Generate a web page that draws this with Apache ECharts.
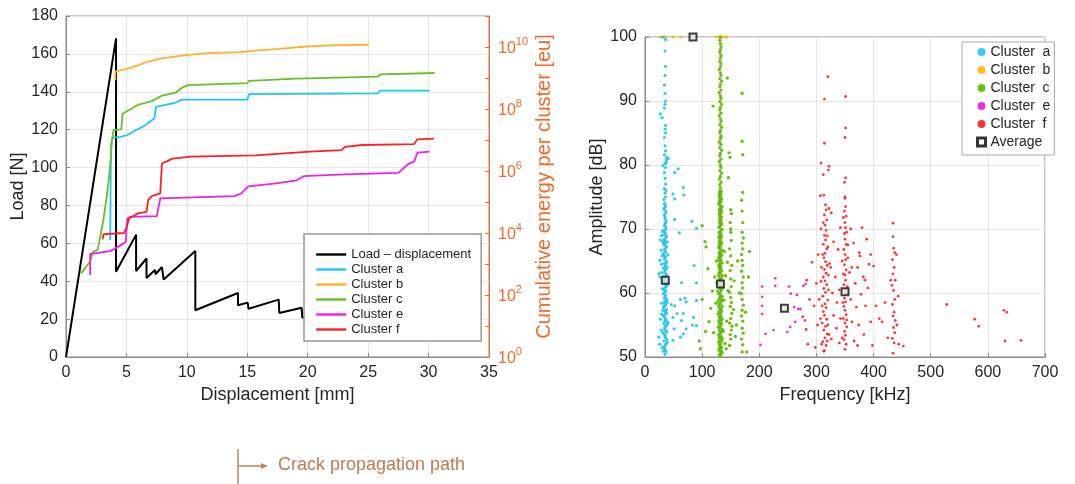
<!DOCTYPE html>
<html><head><meta charset="utf-8">
<script src="https://cdn.jsdelivr.net/npm/echarts@6/dist/echarts.min.js"></script>
<style>html,body{margin:0;padding:0;background:#fff}#c{width:1075px;height:484px}</style>
</head><body><div id="c"></div>
<script>
// ---------- Left chart data ----------
var loadDisp = [[0,0],[4.14,168.2],[4.14,45],[5.8,64.6],[5.8,45.4],[6.66,52],[6.66,41.7],[7.37,46],[7.4,43.7],[7.94,47.5],[8.08,40.9],[10.7,56],[10.7,24.7],[14.23,33.8],[14.23,27.3],[15.03,28.7],[15.1,25.5],[17.6,30.3],[17.65,23.2],[19.5,26],[19.55,20.8],[20.3,21.5]];
var energyA = [[3.66,5.9e3],[3.7,1e6],[3.75,7.8e6],[3.89,1.2e7],[4.51,1.26e7],[5.09,1.45e7],[5.8,2.1e7],[6.37,2.7e7],[6.8,3.5e7],[7.31,5.0e7],[7.45,1.17e8],[8.23,1.35e8],[9.09,1.6e8],[9.51,2.0e8],[15.0,2.0e8],[15.14,3.0e8],[25.8,3.2e8],[26.0,3.9e8],[30.08,3.9e8]];
var energyB = [[4.08,8.5e8],[4.08,1.6e9],[5.09,2.0e9],[5.89,2.5e9],[5.95,2.8e9],[6.8,3.4e9],[7.94,4.3e9],[9.94,5.5e9],[11.66,6.3e9],[14.5,6.8e9],[15.66,7.6e9],[17.66,8.7e9],[19.66,1.02e10],[21.94,1.12e10],[25.08,1.18e10]];
var energyC = [[1.23,4.9e2],[2.0,1.2e3],[2.23,2.5e3],[2.6,2.8e3],[2.7,4e3],[3.09,2.6e4],[3.37,1.5e5],[3.6,8.3e5],[3.8,1e7],[3.94,2.1e7],[4.57,2.2e7],[4.69,7.2e7],[5.23,9.3e7],[5.94,1.35e8],[7.09,1.8e8],[7.94,2.7e8],[9.09,3.4e8],[9.66,5.0e8],[10.08,5.9e8],[15.0,6.8e8],[15.14,8.1e8],[19.08,9.5e8],[25.8,1.1e9],[26.0,1.3e9],[30.5,1.45e9]];
var energyE = [[2.0,4.4e2],[2.0,2.1e3],[3.66,2.6e3],[4.37,3.7e3],[4.94,5.1e3],[5.08,3.0e4],[5.31,3.3e4],[7.51,3.5e4],[7.8,1.3e5],[13.94,1.55e5],[14.51,1.9e5],[15.08,3.2e5],[17.37,4.0e5],[19.08,5.0e5],[19.66,6.8e5],[23.08,7.8e5],[27.5,8.7e5],[28.37,1.74e6],[28.8,2.0e6],[29.08,3.9e6],[30.08,4.2e6]];
var energyF = [[3.03,6.2e3],[3.1,9.1e3],[4.8,1.0e4],[5.03,1.6e4],[5.23,3.0e4],[5.94,4.3e4],[6.66,4.8e4],[6.8,1.15e5],[7.09,1.55e5],[7.8,1.9e5],[7.94,1.74e6],[8.51,2.2e6],[8.8,2.5e6],[10.37,2.9e6],[15.66,3.2e6],[15.8,3.6e6],[20.2,4.2e6],[22.8,4.7e6],[23.08,6.0e6],[24.5,6.9e6],[28.8,7.4e6],[29.08,1.05e7],[30.45,1.1e7]];
var leftNames = ['Load \u2013 displacement','Cluster a','Cluster b','Cluster c','Cluster e','Cluster f'];

// ---------- Right chart data ----------
var ptsA = [[35,50.4],[36,51.0],[34,51.6],[37,52.1],[33,52.5],[36,53.0],[35,53.4],[38,53.9],[34,54.3],[36,54.8],[33,55.2],[37,55.7],[35,56.1],[34,56.6],[36,57.0],[38,57.4],[33,57.9],[35,58.3],[37,58.8],[34,59.2],[36,59.6],[35,60.1],[33,60.5],[37,61.0],[34,61.4],[36,61.9],[35,62.3],[38,62.8],[33,63.2],[36,63.7],[35,64.1],[34,64.6],[37,65.0],[35,65.5],[33,65.9],[36,66.4],[34,66.8],[37,67.3],[35,67.7],[33,68.2],[36,68.6],[34,69.1],[35,69.5],[37,70.0],[34,70.5],[36,71.0],[35,71.6],[34,72.2],[36,72.8],[35,73.4],[34,74.0],
[37,50.8],[34,51.3],[36,51.9],[38,52.7],[35,53.2],[33,53.7],[37,54.1],[35,54.6],[38,55.0],[34,55.5],[36,55.9],[32,56.4],[38,56.8],[35,57.2],[33,57.7],[36,58.1],[34,58.6],[38,59.0],[35,59.4],[32,59.9],[37,60.3],[35,60.8],[38,61.2],[33,61.7],[36,62.1],[34,62.6],[37,63.0],[35,63.5],[32,63.9],[36,64.4],[38,64.8],[34,65.3],[36,65.7],[32,66.2],[35,66.6],[37,67.1],[33,67.5],[36,68.0],[34,68.4],[38,68.9],[35,69.3],[33,69.8],[36,70.3],[35,70.8],[37,71.3],[35,71.9],[37,72.5],[33,73.1],[36,73.7],
[28,63.2],[26,62.5],[24,63.0],[29,64.5],[30,65.8],[28,66.7],[27,68.3],[29,69.0],[30,69.6],[31,67.9],[26,65.1],[31,62.0],[30,60.7],[29,58.4],[31,57.3],[27,55.9],[24,53.1],[26,52.0],[28,54.2],[30,51.5],[31,53.8],[29,56.7],[32,50.9],[39,58.5],[40,61.5],[39,64.0],[40,66.0],[39,68.0],[40,55.4],[39,52.3],
[36,99.6],[35,97.8],[36,95.4],[35,94.0],[34,92.5],[35,91.2],[36,90.0],[35,89.5],[34,88.9],[27,88.0],[30,87.4],[36,86.2],[35,85.6],[36,85.0],[34,84.3],[35,83.0],[36,82.2],[34,81.6],[37,80.8],[35,80.2],[36,79.6],[34,78.8],[35,77.9],[36,77.0],[34,76.3],[35,75.6],[36,75.0],[33,74.6],[31,79.9],[38,81.2],[37,76.0],
[52,78.8],[58,79.4],[49,75.5],[52,74.7],[67,76.5],[68,75.3],[52,71.5],[60,69.4],[82,71.2],[90,70.1],[86,64.3],[90,61.6],[64,61.6],[46,58.2],[52,58.0],[62,59.0],[70,59.2],[72,58.6],[49,56.2],[56,56.8],[67,56.8],[64,55.7],[51,54.4],[72,54.4],[85,56.2],[90,54.9],[40,55.2],[49,52.6],[62,53.1],[67,53.6],[90,58.8],[83,55.0],[40.5,81.0],[37.6,80.4],
[30,100],[33,100],[35,100]];
var ptsB = [[26,100],[35,100],[49,100],[62,100],[125,100],[130,100],[134,100],[138,100],[143,100]];
var ptsC = [[130,50.3],[133,50.3],[132,50.7],[135,50.7],[129,51.1],[133,51.1],[131,51.5],[134,51.5],[130,51.9],[132,51.9],[133,52.3],[129,52.3],[131,52.7],[135,52.7],[130,53.1],[134,53.1],[132,53.5],[129,53.5],[133,53.9],[131,53.9],[130,54.3],[135,54.3],[132,54.7],[128,54.7],[134,55.1],[131,55.1],[129,55.5],[133,55.5],[131,55.9],[135,55.9],[130,56.3],[133,56.3],[132,56.7],[128,56.7],[134,57.1],[130,57.1],[131,57.5],[133,57.5],[129,57.9],[135,57.9],[132,58.3],[130,58.3],[134,58.7],[128,58.7],[130,59.1],[133,59.1],[132,59.5],[135,59.5],[129,59.9],[131,59.9],[133,60.3],[127,60.3],[131,60.7],[135,60.7],[130,61.1],[134,61.1],[132,61.5],[128,61.5],[134,61.9],[130,61.9],[131,62.3],[133,62.3],[129,62.7],[135,62.7],[132,63.1],[130,63.1],[134,63.5],[131,63.5],[130,63.9],[133,63.9],[132,64.3],[129,64.3],[131,64.7],[135,64.7],[133,65.1],[130,65.1],[129,65.5],[132,65.5],[134,65.9],[131,65.9],[130,66.3],[133,66.3],[132,66.7],[135,66.7],[131,67.1],[129,67.1],[133,67.5],[130,67.5],[130,67.9],[134,67.9],[132,68.3],[131,68.3],[134,68.7],[129,68.7],[131,69.1],[133,69.1],[130,69.5],[132,69.5],[133,69.9],[135,69.9],[131,70.3],[129,70.3],[132,70.7],[134,70.7],[130,71.1],[133,71.1],[133,71.5],[131,71.5],[131,71.9],[134,71.9],[132,72.3],[130,72.3],[134,72.7],[131,72.7],[130,73.1],[133,73.1],[132,73.5],[135,73.5],[131,73.9],[129,73.9],[133,74.3],[130,74.3],[131,74.7],[134,74.7],[132,75.1],[130,75.1],[130,75.5],[133,75.5],[133,75.9],[131,75.9],
[132,76.4],[131,76.9],[133,77.3],[130,77.8],[132,78.2],[134,78.7],[131,79.1],[133,79.6],[132,80.0],[130,80.5],[133,80.9],[131,81.4],[132,81.8],[134,82.3],[131,82.7],[133,83.2],[130,83.6],[132,84.1],[133,84.5],[131,85.0],[132,85.4],[134,85.9],[131,86.3],[133,86.8],[132,87.2],[130,87.7],[133,88.1],[131,88.6],[132,89.0],[134,89.5],[131,89.9],[133,90.4],[132,90.8],[130,91.3],[133,91.7],[131,92.2],[132,92.6],[134,93.1],[131,93.5],[133,94.0],[132,94.4],[130,94.9],[132,95.3],[133,95.8],[131,96.2],[132,96.7],[133,97.1],[131,97.6],[132,98.0],[133,98.5],[132,99.0],[131,99.5],[132,100],
[150,52.8],[149,53.5],[151,54.2],[148,55.3],[150,56.0],[152,56.8],[149,57.9],[151,58.5],[150,59.3],[148,60.1],[151,61.0],[150,62.2],[149,63.5],[152,64.3],[150,65.8],[148,66.9],[151,68.2],[150,69.5],[149,71.0],[151,72.4],[150,73.0],[147,81.9],[149,81.2],[144,93.6],[146,78.0],[150,70.0],[152,54.8],[148,51.8],
[170,50.8],[171,51.9],[169,52.8],[172,53.7],[170,54.5],[171,55.6],[169,56.4],[170,57.3],[172,58.1],[170,59.0],[169,59.9],[171,60.8],[170,61.6],[172,62.5],[169,63.4],[171,64.3],[170,65.1],[169,66.0],[171,66.9],[170,67.8],[172,68.6],[170,69.5],[171,71.0],[170,72.8],[169,74.5],[171,75.7],[170,83.7],[171,81.6],[170,91.2],
[140,52.1],[143,55.6],[138,58.9],[145,60.4],[141,62.7],[155,57.4],[158,53.2],[144,64.8],[139,66.5],[156,61.9],[160,55.0],[137,54.0],[142,51.3],
[119,89.2],[100,70.5],[105,68.0],[107,67.2],[110,63.8],[118,60.3],[122,62.5],[125,65.0],[100,59.0],[97,51.3],[95,52.5],[106,54.0],[112,55.5],[120,53.8],[115,57.6],[124,58.4],[126,61.6],[183,66.5],[181,62.5],[178,50.8],[176,57.0],[165,60.0],[162,65.0]];
var ptsE = [[205,61.0],[205,58.0],[205,56.7],[202,51.9],[211,53.6],[228,62.3],[228,61.1],[225,54.2],[252,61.0],[255,59.9],[254,54.7],[249,53.9],[261,57.8],[268,57.5],[263,55.5],[266,59.7],[277,61.1],[281,61.4],[272,57.5],[280,55.7],[205,59.4]];
var ptsF = [[314,51.0],[317,51.8],[311,52.4],[315,53.0],[319,53.6],[313,54.2],[316,54.8],[310,55.3],[318,55.9],[314,56.5],[312,57.1],[317,57.7],[315,58.3],[320,58.9],[311,59.5],[316,60.1],[313,60.7],[318,61.3],[315,61.9],[312,62.5],[317,63.1],[314,63.7],[319,64.3],[316,64.9],[313,65.5],[315,66.2],[318,66.9],[312,67.6],[316,68.3],[314,69.0],[317,69.8],[315,70.6],[318,71.4],[314,72.2],[317,73.0],[316,73.8],[313,75.3],[322,73.2],[308,70.0],[320,67.2],[309,64.0],[321,60.5],[307,56.0],[322,53.5],[309,52.0],[320,55.0],[310,58.0],[321,62.8],[308,61.8],[323,64.6],[311,66.0],[319,68.9],[312,71.0],[319,52.5],[313,50.9],
[350,51.2],[352,52.0],[348,52.7],[351,53.4],[349,54.0],[353,54.7],[350,55.3],[347,56.0],[352,56.6],[350,57.3],[348,57.9],[351,58.6],[349,59.2],[352,59.9],[350,60.6],[348,61.3],[351,62.0],[350,62.8],[352,63.6],[349,64.4],[351,65.2],[350,66.0],[348,66.8],[352,67.6],[350,68.4],[349,69.3],[351,70.2],[350,71.0],[352,72.0],[349,72.8],[351,73.5],[350,75.0],[349,77.3],[351,78.0],[353,55.8],[347,63.0],[354,61.0],[346,58.5],[355,65.5],[345,53.0],[353,69.5],[347,71.8],
[434,50.6],[436,52.2],[433,52.9],[437,53.8],[435,54.6],[438,55.7],[434,56.4],[436,57.0],[433,58.2],[437,59.0],[435,60.4],[432,61.2],[438,62.0],[434,63.0],[436,64.0],[433,65.2],[437,66.3],[435,67.0],[434,68.8],[434,70.9],[440,66.0],[443,59.5],[430,62.0],[441,55.0],[444,52.0],[452,51.7],
[292,64.8],[296,58.0],[300,61.5],[302,55.0],[298,51.5],[305,59.0],[303,66.0],[325,64.0],[328,60.0],[330,56.5],[326,52.8],[333,62.5],[336,58.5],[338,66.8],[335,54.5],[340,60.5],[342,70.2],[340,52.2],[345,65.0],[358,63.2],[360,59.0],[362,55.5],[365,67.8],[368,61.5],[366,52.5],[370,57.8],[372,64.0],[375,66.3],[374,55.0],[378,59.8],[380,70.2],[382,62.5],[383,53.5],[386,58.0],[388,68.4],[390,60.8],[392,64.5],[395,55.5],[398,51.8],[400,64.2],[404,58.0],[410,56.0],[415,55.5],[420,58.5],[425,53.0],[282,54.3],[285,52.0],[288,59.0],[276,56.3],[283,62.0],[362,64.0],[372,51.8],[376,65.8],[355,67.5],[342,56.0],[330,68.0],[326,72.5],[360,70.0],[385,62.0],[395,66.0],
[528,58.2],[577,55.9],[584,54.8],[628,57.3],[633,57.0],[630,52.5],[658,52.6],[320,93.8],[314,90.3],[351,90.7],[351,85.8],[350,84.3],[314,83.4],[308,80.3],[312,78.5],[322,79.8],[321,79.2],[307,75.2],[350,74.8]];
var ptsAvg = [[35.5,62.0],[84,100],[132,61.4],[244,57.6],[350,60.2]];
var rightNames = ['Cluster  a','Cluster  b','Cluster  c','Cluster  e','Cluster  f','Average'];

// ---------- styles ----------
var FONT = 'Liberation Sans, Arial, sans-serif';
var TXT = '#262626', AX = '#8a8a8a', GRIDC = '#e6e6e6', ORANGE = '#f06a2c';
var lineCols = ['#000000','#1ec8f0','#ffb02e','#66c02a','#f020e6','#ff2020'];
var dotCols = ['#1ec4ec','#ffb400','#5cb800','#e61ed2','#ff1e1e'];
var dotSizes = [3.2, 3, 3.4, 2.8, 2.8];

function ax(extra){
  var o = {
    axisLine:{show:true,lineStyle:{color:AX,width:1}},
    axisTick:{show:true,inside:true,length:4,lineStyle:{color:AX}},
    axisLabel:{color:TXT,fontSize:16,fontFamily:FONT},
    splitLine:{show:true,lineStyle:{color:GRIDC,width:1}},
    nameTextStyle:{color:TXT,fontSize:18,fontFamily:FONT},
    nameLocation:'middle'
  };
  for (var k in extra) o[k]=extra[k];
  return o;
}

var leftData = [loadDisp, energyA, energyB, energyC, energyE, energyF];
var series = [];
for (var i=0;i<6;i++){
  series.push({type:'line', name:leftNames[i], xAxisIndex:0, yAxisIndex: i===0?0:1,
    data:leftData[i], symbol:'none', lineStyle:{color:lineCols[i], width: i===0?2:1.8},
    itemStyle:{color:lineCols[i]}, animation:false});
}
var rightData = [ptsA, ptsB, ptsC, ptsE, ptsF];
for (var j=0;j<5;j++){
  series.push({type:'scatter', name:rightNames[j], xAxisIndex:1, yAxisIndex:2,
    data:rightData[j], symbol:'circle', symbolSize: dotSizes[j],
    itemStyle:{color:dotCols[j], opacity:0.9}, animation:false, silent:true});
}
series.push({type:'scatter', name:'Average', xAxisIndex:1, yAxisIndex:2, data:ptsAvg,
  symbol:'rect', symbolSize:7, itemStyle:{color:'#e8e8e8', borderColor:'#111', borderWidth:2}, animation:false, z:5});

var option = {
  backgroundColor:'#fff',
  animation:false,
  grid:[
    {left:66, right:586, top:16, bottom:127, show:true, borderColor:AX, borderWidth:1, backgroundColor:'transparent'},
    {left:645, right:30, top:37, bottom:127, show:true, borderColor:AX, borderWidth:1, backgroundColor:'transparent'}
  ],
  xAxis:[
    ax({type:'value', gridIndex:0, min:0, max:35, interval:5, name:'Displacement [mm]', nameGap:24}),
    ax({type:'value', gridIndex:1, min:0, max:700, interval:100, name:'Frequency [kHz]', nameGap:25})
  ],
  yAxis:[
    ax({type:'value', gridIndex:0, min:0, max:180, interval:20, name:'Load [N]', nameGap:38}),
    {type:'log', gridIndex:0, logBase:10, min:1, max:1e11, interval:1, position:'right',
      name:'Cumulative energy per cluster [eu]', nameLocation:'middle', nameGap:45,
      nameTextStyle:{color:ORANGE,fontSize:20,fontFamily:FONT},
      axisLine:{show:true,lineStyle:{color:ORANGE,width:1}},
      axisTick:{show:true,inside:true,length:4,lineStyle:{color:ORANGE}},
      splitLine:{show:false},
      axisLabel:{margin:9, fontFamily:FONT,
        formatter:function(v){ var e=Math.round(Math.log(v)/Math.LN10); if(e%2!==0||e>10) return ''; return '{b|10}{s|'+e+'}'; },
        rich:{b:{fontSize:16,color:ORANGE,fontFamily:FONT,padding:[4,0,0,0]}, s:{fontSize:11,color:ORANGE,fontFamily:FONT,padding:[0,0,10,0]}}}
    },
    ax({type:'value', gridIndex:1, min:50, max:100, interval:10, name:'Amplitude [dB]', nameGap:32})
  ],
  legend:[
    {data:leftNames, orient:'vertical', left:304, top:234, selectedMode:false,
      backgroundColor:'#fff', borderColor:'#999', borderWidth:1.5, padding:[14,10,5,11],
      itemWidth:30, itemHeight:14, itemGap:2, itemStyle:{opacity:0}, lineStyle:{width:2.4},
      textStyle:{fontSize:13,color:TXT,fontFamily:FONT}},
    {data:[{name:'Cluster  a',icon:'circle'},{name:'Cluster  b',icon:'circle'},{name:'Cluster  c',icon:'circle'},{name:'Cluster  e',icon:'circle'},{name:'Cluster  f',icon:'circle'},
           {name:'Average',icon:'rect',itemStyle:{color:'#fff',borderColor:'#000',borderWidth:3}}],
      orient:'vertical', left:962, top:42, selectedMode:false,
      backgroundColor:'#fff', borderColor:'#aaa', borderWidth:1, padding:[3,4,6,14],
      itemWidth:8, itemHeight:8, itemGap:4,
      textStyle:{fontSize:14,color:TXT,fontFamily:FONT}}
  ],
  graphic:[
    {type:'line', shape:{x1:238,y1:449,x2:238,y2:484}, style:{stroke:'#c4825a',lineWidth:1.5}},
    {type:'line', shape:{x1:238,y1:466,x2:262,y2:466}, style:{stroke:'#c4825a',lineWidth:1.5}},
    {type:'polygon', shape:{points:[[261,463],[268,466],[261,469]]}, style:{fill:'#c4825a'}},
    {type:'text', left:278, top:456, style:{text:'Crack propagation path', font:'18px Liberation Sans, Arial, sans-serif', fill:'#c07a52'}}
  ],
  series:series
};
var chart = echarts.init(document.getElementById('c'), null, {renderer:'canvas'});
chart.setOption(option);
</script></body></html>
